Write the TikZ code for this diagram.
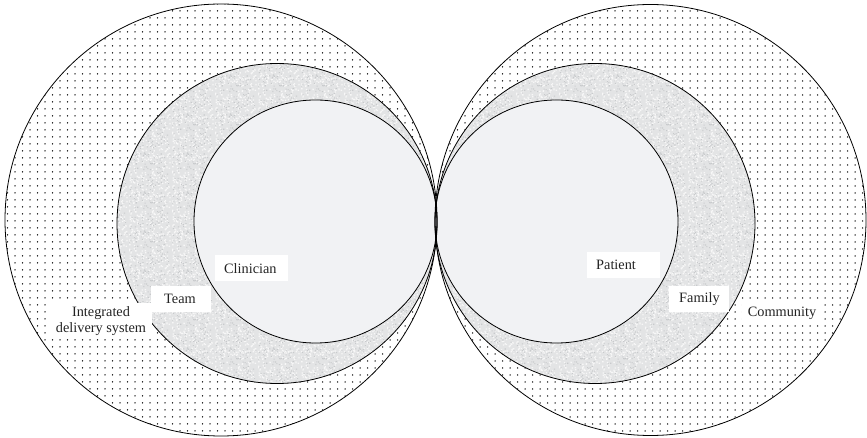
\documentclass[tikz,border=0pt]{standalone}
\usepackage{fontspec}
\setmainfont{Liberation Serif}
\usetikzlibrary{patterns}

\definecolor{ringgray}{RGB}{227,228,229}
\definecolor{specklight}{RGB}{247,247,247}
\definecolor{speckdark}{RGB}{200,202,204}
\definecolor{coregray}{RGB}{241,242,244}
\definecolor{inktext}{RGB}{35,35,35}

% sparse dot screen for the outer rings
\pgfdeclarepatternformonly{sparsedots}{\pgfqpoint{-1pt}{-1pt}}{\pgfqpoint{1pt}{1pt}}{\pgfqpoint{7.5pt}{7pt}}{%
  \pgfpathcircle{\pgfqpoint{0pt}{0pt}}{0.75pt}\pgfusepath{fill}}

% grainy grey tile for the middle rings
\pgfmathsetseed{11}
\pgfdeclarepatterninherentlycolored{grain}{\pgfqpoint{0pt}{0pt}}{\pgfqpoint{43pt}{39pt}}{\pgfqpoint{43pt}{39pt}}{%
  \pgfsetfillcolor{ringgray}%
  \pgfpathrectangle{\pgfqpoint{0pt}{0pt}}{\pgfqpoint{43pt}{39pt}}\pgfusepath{fill}%
  \pgfsetfillcolor{specklight}%
  \foreach \k in {1,...,200}{%
    \pgfmathsetmacro{\px}{41.6*rnd}%
    \pgfmathsetmacro{\py}{37.6*rnd}%
    \pgfpathrectangle{\pgfqpoint{\px pt}{\py pt}}{\pgfqpoint{1.3pt}{1.3pt}}}%
  \pgfusepath{fill}%
  \pgfsetfillcolor{speckdark}%
  \foreach \k in {1,...,100}{%
    \pgfmathsetmacro{\px}{41.8*rnd}%
    \pgfmathsetmacro{\py}{37.8*rnd}%
    \pgfpathrectangle{\pgfqpoint{\px pt}{\py pt}}{\pgfqpoint{1.1pt}{1.1pt}}}%
  \pgfusepath{fill}}

\tikzset{
  ring/.style={draw=black, line width=0.8pt},
  lbl/.style={fill=white, anchor=north west, inner xsep=9pt, inner ysep=0pt,
              align=left, minimum height=26pt, text=inktext,
              font=\fontsize{14.3}{16}\selectfont},
  freelbl/.style={fill=white, inner xsep=6pt, inner ysep=3pt, align=center,
              text=inktext, font=\fontsize{14.3}{16}\selectfont},
}

\begin{document}
\begin{tikzpicture}[x=1pt, y=-1pt]
  \useasboundingbox[fill=white] (0,0) rectangle (867,438);

  % ---- left group: integrated delivery system / team / clinician
  \fill[white] (221,220) circle (216);
  \fill[pattern=sparsedots, pattern color=black] (221,220) circle (216);
  \fill[ringgray] (277,223.5) circle (160);
  \fill[pattern=grain] (277,223.5) circle (160);
  \fill[coregray] (315.5,221.5) circle (121.5);

  % ---- right group: community / family / patient
  \fill[white] (650.5,220) circle (215.5);
  \fill[pattern=sparsedots, pattern color=black] (650.5,220) circle (215.5);
  \fill[ringgray] (595,223.5) circle (160);
  \fill[pattern=grain] (595,223.5) circle (160);
  \fill[coregray] (556.5,221.5) circle (121.5);

  % ---- outlines
  \draw[ring] (221,220) circle (216);
  \draw[ring] (277,223.5) circle (160);
  \draw[ring] (315.5,221.5) circle (121.5);
  \draw[ring] (650.5,220) circle (215.5);
  \draw[ring] (595,223.5) circle (160);
  \draw[ring] (556.5,221.5) circle (121.5);

  % ---- labels
  \node[lbl, text width=55pt] (clinician) at (215,255) {Clinician};
  \node[lbl, inner xsep=13pt, text width=34pt] (team) at (151,286) {Team};
  \node[freelbl] (ids) at (101,321) {Integrated\\delivery system};
  \node[lbl, text width=55pt] (patient) at (587,252) {Patient};
  \node[lbl, inner xsep=10pt, text width=40pt] (family) at (669,286) {Family};
  \node[freelbl] (community) at (782,313.5) {Community};
\end{tikzpicture}
\end{document}
